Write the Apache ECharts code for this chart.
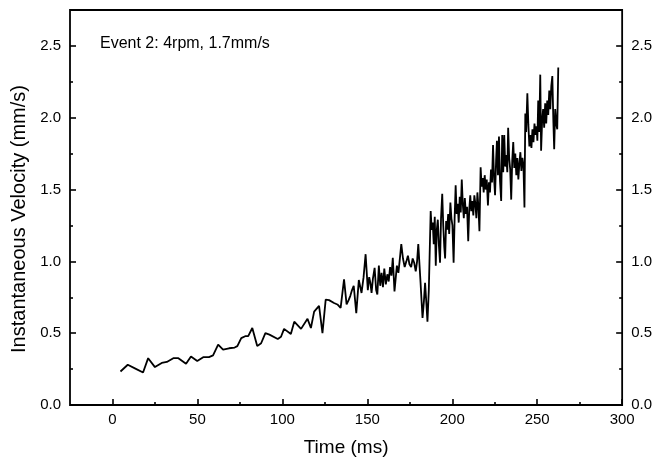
<!DOCTYPE html>
<html>
<head>
<meta charset="utf-8">
<script src="https://cdn.jsdelivr.net/npm/echarts/dist/echarts.min.js"></script>
<style>
html,body{margin:0;padding:0;background:#fff;}
#chart{width:655px;height:466px;}
</style>
</head>
<body>
<div id="chart"></div>
<script>
// Time (ms)
const times = [
  4.7, 9, 13.5, 18, 21, 25, 29, 32, 35.8, 38.8, 43.3, 46.2, 49.9, 53.4, 56.8, 59.2,
  62.2, 65.1, 68.6, 71.9, 73.5, 75.8, 78.4, 79.9, 82.3, 85.2, 87.5, 90, 92.4, 97.3,
  99.2, 101, 105, 107, 111, 114.8, 116.8, 118.7, 121.6, 123.6, 125.5, 127.5, 130.4,
  132.4, 134.3, 136.3,
  137.8, 139, 140, 141, 142, 143.5, 145, 146.6, 147.8, 149, 150.3, 151.1, 151.8, 152.5,
  153.3, 154.3, 155.2, 155.9, 156.8, 157.6, 158.4, 159.2, 160, 160.9, 161.8, 162.6,
  163.4, 164.2, 165, 166, 167.4, 168.3, 169, 170, 171, 172, 173, 173.9, 174.8, 175.8,
  176.7, 177.6, 178.5, 179.3, 180, 181.3, 182.5, 183.3, 184, 184.8, 185.4, 186.2,
  187.3, 187.9, 188.5, 189.1, 189.7, 190.3, 190.9, 191.5, 192.1, 192.8, 193.4, 194.1,
  194.7, 195.3, 195.8, 196.4, 197, 197.6, 198.2, 198.9, 199.5, 200.1, 200.8, 201.4,
  202, 202.6, 203.2, 203.8, 204.4, 205, 205.6, 206.2, 206.8, 207.4, 208, 208.7, 209.4,
  210, 210.6, 211.2, 211.8, 212.4, 213, 213.6, 214.2, 214.8, 215.4, 216, 216.7, 217.3,
  217.9, 218.5, 219.1, 219.7, 220.3, 221, 221.6, 222.2, 222.8, 223.4, 224, 224.6,
  225.2, 225.8, 226.3, 226.9, 227.5, 228.1, 228.8, 229.4, 230, 230.6, 231.2, 231.8,
  232.4, 232.9, 233.5, 234.1, 234.7, 235.3, 235.9, 236.5, 237.1, 237.7, 238.3, 238.9,
  239.5, 240.1, 240.7, 241.3, 241.9, 242.5, 243, 243.5, 244.2, 244.8, 245.4, 246,
  246.6, 247.2, 247.8, 248.4, 249, 249.6, 250.1, 250.6, 251.2, 251.8, 252.3, 252.9,
  253.5, 254.1, 254.7, 255.3, 255.9, 256.5, 257.1, 257.7, 258.3, 258.9, 259.5, 260,
  260.6, 261.2, 261.8, 262.4
];
// Instantaneous Velocity (mm/s)
const velocities = [
  0.233, 0.28, 0.253, 0.226, 0.326, 0.264, 0.293, 0.30, 0.326, 0.326, 0.287, 0.338, 0.307, 0.333, 0.333, 0.345,
  0.42, 0.385, 0.395, 0.40, 0.41, 0.466, 0.48, 0.48, 0.536, 0.41, 0.43, 0.50, 0.49, 0.46,
  0.475, 0.53, 0.494, 0.58, 0.53, 0.60, 0.536, 0.65, 0.69, 0.50, 0.734, 0.73, 0.71,
  0.70, 0.676, 0.874,
  0.70, 0.73, 0.76, 0.80, 0.83, 0.64, 0.87, 0.78, 0.89, 1.05, 0.80, 0.89, 0.85, 0.78,
  0.88, 0.955, 0.80, 0.77, 0.97, 0.83, 0.92, 0.82, 0.95, 0.84, 0.91, 0.86,
  0.96, 0.90, 1.025, 0.79, 0.97, 0.92, 1.0, 1.12, 1.02, 0.96, 1.0, 1.04, 0.98, 0.96,
  1.02, 0.99, 0.93, 1.0, 1.12, 0.86, 0.606, 0.72, 0.85, 0.70, 0.58, 0.80,
  1.35, 1.22, 1.27, 1.12, 1.31, 0.97, 1.22, 1.29, 1.12, 0.99, 1.30, 1.47,
  1.25, 1.10, 1.02, 1.28, 1.22, 1.33, 1.19, 1.41, 1.30, 1.25, 0.99, 1.30,
  1.53, 1.33, 1.40, 1.27, 1.45, 1.34, 1.57, 1.40, 1.30, 1.44, 1.33, 1.38, 1.14,
  1.36, 1.46, 1.35, 1.42, 1.32, 1.46, 1.40, 1.30, 1.48, 1.38, 1.21, 1.655, 1.52,
  1.58, 1.48, 1.60, 1.50, 1.57, 1.39, 1.55, 1.48, 1.64, 1.55, 1.81, 1.58,
  1.46, 1.70, 1.84, 1.60, 1.87, 1.56, 1.42, 1.88, 1.62, 1.88, 1.66, 1.74,
  1.62, 1.93, 1.72, 1.64, 1.43, 1.70, 1.83, 1.65, 1.75, 1.60, 1.72, 1.57,
  1.68, 1.76, 1.63, 1.72, 1.67, 1.375, 2.03, 1.90, 2.17, 1.95, 1.80, 1.88,
  1.79, 1.92, 1.83, 1.96, 1.88, 1.94, 1.84, 2.12, 1.90, 2.30, 1.77, 1.98,
  2.06, 1.93, 2.10, 1.96, 2.12, 2.02, 2.19, 2.06, 2.22, 2.29, 1.98, 1.78,
  2.06, 1.96, 1.92, 2.35
];
const xTickValues = [0, 50, 100, 150, 200, 250, 300];
const xMinorTickValues = [25, 75, 125, 175, 225, 275];
const yTickValues = [0, 0.5, 1.0, 1.5, 2.0, 2.5];
const yMinorTickValues = [0.25, 0.75, 1.25, 1.75, 2.25];
const annotationText = 'Event 2: 4rpm, 1.7mm/s';

const seriesData = times.map((t, i) => [t, velocities[i]]);
const FONT = 'Liberation Sans, Arial, Helvetica, sans-serif';

const chart = echarts.init(document.getElementById('chart'), null, {renderer: 'canvas'});
const baseX = {type: 'value', min: -25, max: 300, gridIndex: 0, splitLine: {show: false}, axisLine: {show: false, onZero: false}};
const baseY = {type: 'value', min: 0, max: 2.75, gridIndex: 0, splitLine: {show: false}, axisLine: {show: false, onZero: false}};
chart.setOption({
  animation: false,
  backgroundColor: '#fff',
  title: {
    text: annotationText, left: 100, top: 36, padding: 0,
    textStyle: {fontFamily: FONT, fontSize: 16, fontWeight: 'normal', color: '#000'}
  },
  grid: {left: 70, right: 32, top: 10, bottom: 61, show: true, borderColor: '#000', borderWidth: 1.8, backgroundColor: 'transparent'},
  xAxis: [
    Object.assign({}, baseX, {
      position: 'bottom',
      name: 'Time (ms)', nameLocation: 'middle', nameGap: 33,
      nameTextStyle: {fontFamily: FONT, fontSize: 19, color: '#000'},
      axisTick: {show: true, inside: true, length: 6, customValues: xTickValues, lineStyle: {color: '#000', width: 1.6}},
      axisLabel: {show: true, margin: 7, customValues: xTickValues, fontFamily: FONT, fontSize: 15, color: '#000'}
    }),
    Object.assign({}, baseX, {
      position: 'bottom',
      axisTick: {show: true, inside: true, length: 3, customValues: xMinorTickValues, lineStyle: {color: '#000', width: 1.6}},
      axisLabel: {show: false}
    })
  ],
  yAxis: [
    Object.assign({}, baseY, {
      position: 'left',
      name: 'Instantaneous Velocity (mm/s)', nameLocation: 'middle', nameGap: 41,
      nameTextStyle: {fontFamily: FONT, fontSize: 20, color: '#000', padding: [0, 23, 0, 0]},
      axisTick: {show: true, inside: true, length: 6, customValues: yTickValues, lineStyle: {color: '#000', width: 1.6}},
      axisLabel: {show: true, margin: 9, customValues: yTickValues, formatter: v => v.toFixed(1), fontFamily: FONT, fontSize: 15, color: '#000'}
    }),
    Object.assign({}, baseY, {
      position: 'left',
      axisTick: {show: true, inside: true, length: 3, customValues: yMinorTickValues, lineStyle: {color: '#000', width: 1.6}},
      axisLabel: {show: false}
    }),
    Object.assign({}, baseY, {
      position: 'right',
      axisTick: {show: true, inside: true, length: 6, customValues: yTickValues, lineStyle: {color: '#000', width: 1.6}},
      axisLabel: {show: true, margin: 9, customValues: yTickValues, formatter: v => v.toFixed(1), fontFamily: FONT, fontSize: 15, color: '#000'}
    }),
    Object.assign({}, baseY, {
      position: 'right',
      axisTick: {show: true, inside: true, length: 3, customValues: yMinorTickValues, lineStyle: {color: '#000', width: 1.6}},
      axisLabel: {show: false}
    })
  ],
  series: [{
    type: 'line',
    xAxisIndex: 0,
    yAxisIndex: 0,
    data: seriesData,
    showSymbol: false,
    symbol: 'none',
    lineStyle: {color: '#000', width: 1.8},
    z: 3
  }]
});
</script>
</body>
</html>
